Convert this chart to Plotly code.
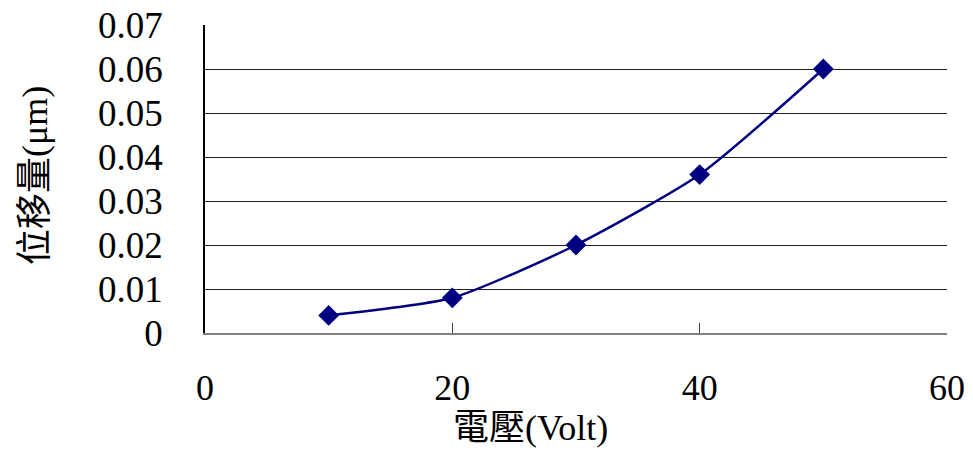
import plotly.graph_objects as go

# Displacement vs. applied voltage
voltage = [10, 20, 30, 40, 50]
displacement = [0.004, 0.008, 0.020, 0.036, 0.060]

x_ticks = [0, 20, 40, 60]
y_ticks = [0, 0.01, 0.02, 0.03, 0.04, 0.05, 0.06, 0.07]
y_tick_text = ["0", "0.01", "0.02", "0.03", "0.04", "0.05", "0.06", "0.07"]

FONT = "Liberation Serif, Times New Roman, Noto Sans CJK TC, serif"
NAVY = "#000080"

fig = go.Figure()
fig.add_trace(go.Scatter(
    x=voltage, y=displacement,
    mode="lines+markers",
    line=dict(color=NAVY, width=2.5, shape="spline", smoothing=0.6),
    marker=dict(symbol="diamond", size=16, color=NAVY),
    showlegend=False,
))

fig.update_layout(
    width=973, height=453,
    margin=dict(l=205, r=26, t=25, b=120),
    paper_bgcolor="white", plot_bgcolor="white",
    font=dict(family=FONT, color="black", size=35),
    xaxis=dict(
        range=[0, 60], tickvals=x_ticks,
        automargin=False,
        showgrid=False, zeroline=False,
        showline=True, linecolor="#808080", linewidth=2,
        ticks="inside", ticklen=10, tickcolor="#404040", tickwidth=1,
        ticklabelstandoff=22,
        tickfont=dict(family=FONT, size=36),
    ),
    yaxis=dict(
        range=[0, 0.07], tickvals=y_ticks, ticktext=y_tick_text,
        automargin=False,
        showgrid=True, gridcolor="#202020", gridwidth=1,
        zeroline=False,
        showline=True, linecolor="black", linewidth=1.5,
        ticks="", ticklabelstandoff=33,
        tickfont=dict(family=FONT, size=37),
    ),
    annotations=[
        dict(text="電壓(Volt)", xref="paper", yref="paper",
             x=(530 - 205) / 742, y=-(428 - 333) / 308,
             xanchor="center", yanchor="middle", showarrow=False,
             font=dict(family=FONT, size=36, color="black")),
        dict(text="位移量(μm)", xref="paper", yref="paper",
             x=-(205 - 35) / 742, y=(333 - 176) / 308,
             xanchor="center", yanchor="middle", showarrow=False,
             textangle=-90,
             font=dict(family=FONT, size=36, color="black")),
    ],
)

fig.write_html("out.html")
